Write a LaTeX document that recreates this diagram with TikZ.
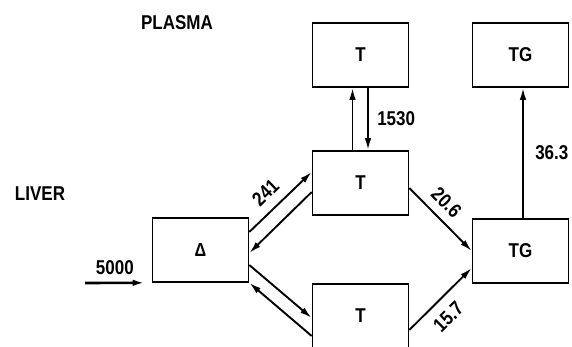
\documentclass[tikz,border=0pt]{standalone}
\usepackage{fontspec}
\setmainfont{Liberation Sans}[FakeStretch=0.85]
\usetikzlibrary{arrows.meta}

\begin{document}
\begin{tikzpicture}[node distance=160pt, auto,
        box/.style={draw, rectangle, line width=1.6pt, minimum width=96pt, minimum height=64pt, font=\bfseries\fontsize{20}{20}\selectfont},
        flow/.style={-{Latex[length=12pt,width=6.5pt]}, line width=1.9pt},
        lbl/.style={font=\bfseries\fontsize{20}{20}\selectfont}]
        \useasboundingbox (0,0) rectangle (572pt,-347pt);
        \clip (0,0) rectangle (572pt,-347pt);
        \node [box, font=\bfseries\fontsize{19}{19}\selectfont] (d) at (200.5pt,-250pt) {Δ};
        \node [box, right of=d, yshift=67pt] (lt) {T};
        \node [box, right of=d, yshift=-66pt] (lb) {T};
        \node [box, right of=lt, yshift=-68pt] (ltg) {TG};
        \node [box, above of=lt, node distance=128pt] (pt) {T};
        \node [box, above of=ltg, node distance=196pt] (ptg) {TG};
        \node [lbl] (plasma) at (177pt,-23pt) {PLASMA};
        \node [lbl] (liver) at (40pt,-194pt) {LIVER};
        \coordinate (in) at (85pt,-283pt);
        \draw [flow, line width=2.6pt] (in) -- ([xshift=-7pt]d.south west) node [lbl, midway, above=4pt] {5000};
        \draw [flow] ([yshift=18pt]d.east) -- ([yshift=11pt]lt.west) node [lbl, pos=0.45, sloped, above=6pt] {241};
        \draw [flow] ([yshift=-9pt]lt.west) -- ([yshift=-3pt]d.east);
        \draw [flow] ([yshift=-15pt]d.east) -- ([yshift=-2pt]lb.west);
        \draw [flow] ([yshift=-20pt]lb.west) -- (d.south east);
        \draw [flow] ([yshift=-5pt]lt.east) -- (ltg.west) node [lbl, pos=0.41, sloped, above=5pt] {20.6};
        \draw [flow] ([yshift=-14pt]lb.east) -- ([yshift=-17pt]ltg.west) node [lbl, pos=0.42, sloped, below=7pt] {15.7};
        \draw [flow] ([xshift=-8pt]lt.north) -- ([xshift=-8pt]pt.south);
        \draw [flow] ([xshift=7.5pt]pt.south) -- ([xshift=7.5pt]lt.north) node [lbl, midway, right=5pt] {1530};
        \draw [flow] ([xshift=2.5pt]ltg.north) -- ([xshift=2.5pt]ptg.south) node [lbl, midway, right=8pt] {36.3};
    \end{tikzpicture}
\end{document}
